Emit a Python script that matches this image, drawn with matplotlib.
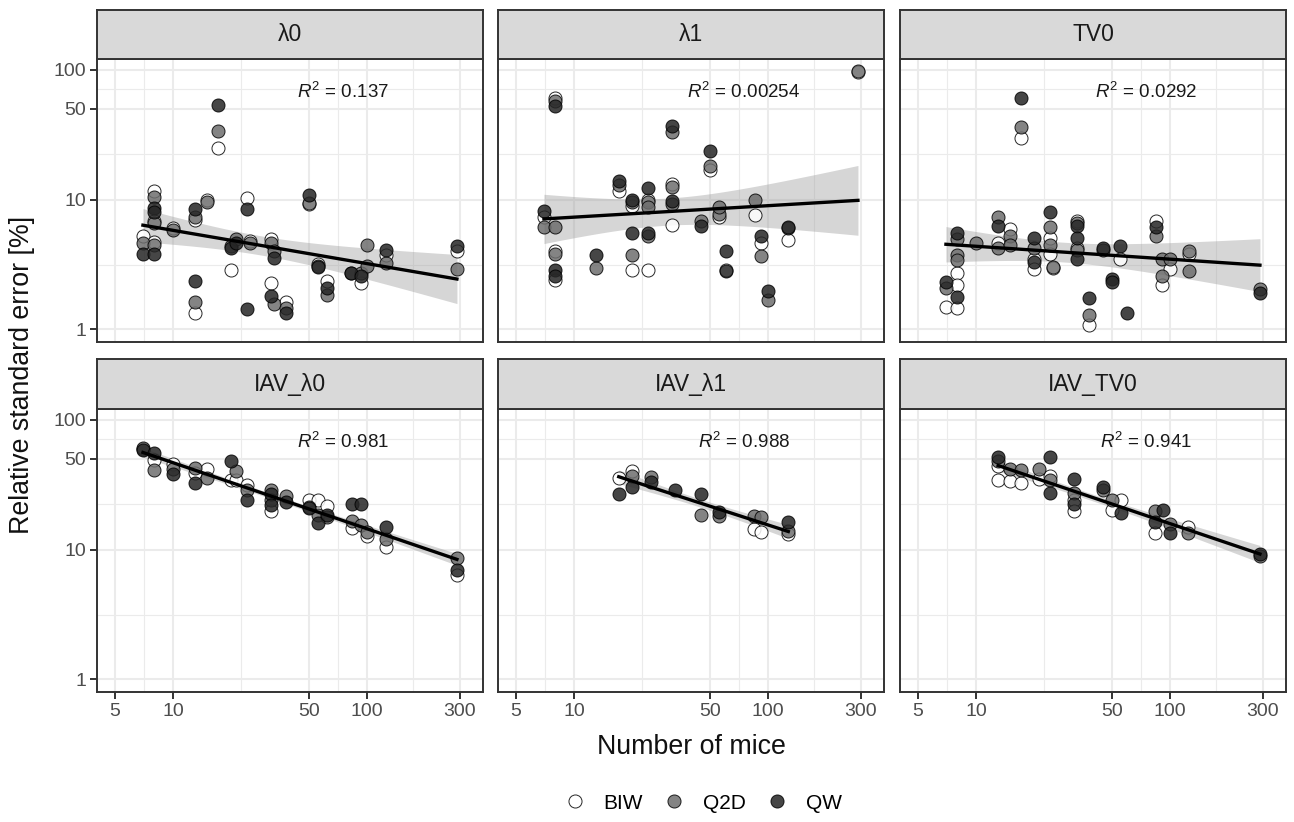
import numpy as np
import matplotlib
matplotlib.use("Agg")
import matplotlib.pyplot as plt
from matplotlib.lines import Line2D
from matplotlib.ticker import FixedLocator

plt.rcParams['font.family'] = ['Liberation Sans', 'DejaVu Sans']
plt.rcParams['mathtext.fontset'] = 'custom'
plt.rcParams['mathtext.rm'] = 'Liberation Sans'
plt.rcParams['mathtext.it'] = 'Liberation Sans:italic'

# ---------------- data ----------------
panel_titles = ["λ0", "λ1", "TV0", "IAV_λ0", "IAV_λ1", "IAV_TV0"]
r2_labels = ["0.137", "0.00254", "0.0292", "0.981", "0.988", "0.941"]
methods = ["BIW", "Q2D", "QW"]
method_fill = {"BIW": "#ffffff", "Q2D": "#6e6e6e", "QW": "#262626"}
x_ticks = [5, 10, 50, 100, 300]
y_ticks = [1, 10, 50, 100]

# lambda0
lam0_x = [7, 7, 7, 8, 8, 8, 8, 8, 8, 8, 8, 8, 10, 10,
          13, 13, 13, 13, 13, 13, 15, 15, 17, 17, 17, 20, 20, 20, 21, 21,
          24, 24, 24, 25, 25, 32, 32, 33, 33, 32, 33, 32, 38, 38, 38,
          50, 50, 50, 56, 56, 56, 62, 62, 62, 83, 83, 93, 93, 93,
          100, 100, 125, 125, 125, 290, 290, 290]
lam0_y = [5.2, 4.6, 3.8, 11.6, 10.5, 8.6, 6.9, 6.6, 8.0, 4.7, 4.5, 3.8, 6.0, 5.8,
          7.0, 7.4, 8.4, 1.33, 1.62, 2.37, 10.0, 9.6, 25.0, 33.7, 53.5, 2.88, 4.4, 4.2, 5.0, 4.6,
          10.3, 8.5, 1.44, 4.8, 4.6, 4.97, 4.6, 4.0, 3.55, 2.27, 1.57, 1.82, 1.64, 1.46, 1.33,
          9.2, 9.4, 10.9, 3.2, 3.1, 3.0, 2.34, 1.85, 2.08, 2.72, 2.7, 2.27, 2.7, 2.6,
          4.5, 3.1, 3.76, 3.24, 4.11, 4.0, 2.92, 4.36]
lam0_m = ["BIW", "Q2D", "QW", "BIW", "Q2D", "QW", "BIW", "Q2D", "QW", "BIW", "Q2D", "QW", "BIW", "Q2D",
          "BIW", "Q2D", "QW", "BIW", "Q2D", "QW", "BIW", "Q2D", "BIW", "Q2D", "QW", "BIW", "Q2D", "QW", "Q2D", "QW",
          "BIW", "QW", "QW", "BIW", "Q2D", "BIW", "Q2D", "Q2D", "QW", "BIW", "Q2D", "QW", "BIW", "Q2D", "QW",
          "BIW", "Q2D", "QW", "BIW", "Q2D", "QW", "BIW", "Q2D", "QW", "Q2D", "QW", "BIW", "Q2D", "QW",
          "Q2D", "Q2D", "BIW", "Q2D", "QW", "BIW", "Q2D", "QW"]

# lambda1
lam1_x = [7, 7, 7, 8, 8, 8, 8, 8, 8, 8, 8, 8, 13, 13,
          17, 17, 17, 20, 20, 20, 20, 20, 20, 24, 24, 24, 24, 24, 24, 24,
          32, 32, 32, 32, 32, 32, 32, 45, 45, 50, 50, 50, 56, 56, 56,
          61, 61, 61, 86, 86, 92, 92, 92, 100, 100, 126, 126, 126, 290, 290]
lam1_y = [7.3, 6.2, 8.1, 61.0, 57.0, 52.5, 4.0, 6.2, 2.88, 2.41, 3.8, 2.6, 3.76, 2.97,
          11.6, 13.0, 14.0, 9.0, 9.5, 10.0, 2.88, 3.76, 5.5, 10.0, 9.6, 12.3, 2.88, 8.7, 5.2, 5.5,
          13.2, 12.6, 36.8, 6.4, 9.2, 33.0, 9.8, 6.8, 6.3, 17.0, 18.1, 23.6, 7.3, 7.8, 8.7,
          2.88, 2.8, 4.0, 7.6, 10.0, 4.6, 3.7, 5.2, 1.69, 1.96, 4.9, 6.0, 6.2, 96.0, 98.0]
lam1_m = ["BIW", "Q2D", "QW", "BIW", "Q2D", "QW", "BIW", "Q2D", "QW", "BIW", "Q2D", "QW", "QW", "Q2D",
          "BIW", "Q2D", "QW", "BIW", "Q2D", "QW", "BIW", "Q2D", "QW", "BIW", "Q2D", "QW", "BIW", "Q2D", "Q2D", "QW",
          "BIW", "Q2D", "QW", "BIW", "Q2D", "Q2D", "QW", "Q2D", "QW", "BIW", "Q2D", "QW", "BIW", "Q2D", "Q2D",
          "BIW", "QW", "QW", "BIW", "Q2D", "BIW", "Q2D", "QW", "Q2D", "QW", "BIW", "Q2D", "QW", "BIW", "Q2D"]

# TV0
tv0_x = [7, 7, 7, 8, 8, 8, 8, 8, 8, 8, 8, 10,
         13, 13, 13, 13, 15, 15, 15, 17, 17, 17, 20, 20, 20, 20, 20,
         24, 24, 24, 24, 24, 25, 25, 33, 33, 33, 33, 33, 33, 33, 38, 38, 38,
         45, 45, 50, 50, 55, 55, 60, 85, 85, 85, 91, 91, 91, 100, 100,
         125, 125, 125, 290, 290]
tv0_y = [1.5, 2.08, 2.3, 5.5, 5.0, 3.76, 3.44, 2.72, 2.2, 1.79, 1.46, 4.63,
         4.6, 7.3, 6.3, 4.2, 5.9, 5.2, 4.5, 30.0, 36.0, 61.0, 3.5, 2.9, 4.2, 5.1, 3.3,
         5.1, 3.8, 6.2, 4.5, 8.0, 2.95, 3.0, 6.9, 4.2, 6.6, 4.1, 6.3, 5.1, 3.5, 1.08, 1.29, 1.74,
         4.1, 4.2, 2.45, 2.3, 3.5, 4.4, 1.33, 6.9, 5.2, 6.2, 2.2, 2.6, 3.5, 2.9, 3.5,
         3.8, 4.0, 2.8, 2.05, 1.9]
tv0_m = ["BIW", "Q2D", "QW", "QW", "Q2D", "Q2D", "Q2D", "BIW", "BIW", "QW", "BIW", "Q2D",
         "BIW", "Q2D", "QW", "Q2D", "BIW", "Q2D", "Q2D", "BIW", "Q2D", "QW", "BIW", "BIW", "Q2D", "QW", "QW",
         "BIW", "BIW", "Q2D", "Q2D", "QW", "BIW", "Q2D", "BIW", "BIW", "Q2D", "Q2D", "QW", "QW", "QW", "BIW", "Q2D", "QW",
         "Q2D", "QW", "QW", "QW", "BIW", "QW", "QW", "BIW", "Q2D", "QW", "BIW", "Q2D", "Q2D", "BIW", "Q2D",
         "BIW", "Q2D", "Q2D", "Q2D", "QW"]

# IAV_lambda0
iavl0_x = [7, 7, 7, 8, 8, 8, 10, 10, 10, 13, 13, 13, 15, 15, 20, 20, 21, 21,
           24, 24, 24, 32, 32, 32, 32, 32, 38, 38, 50, 50, 50, 56, 56, 56, 62, 62, 62,
           84, 84, 84, 93, 93, 100, 100, 125, 125, 125, 290, 290, 290]
iavl0_y = [59.0, 61.0, 58.0, 49.0, 41.0, 55.5, 45.9, 42.0, 38.4, 39.0, 42.5, 32.6, 42.0, 35.5, 34.5, 47.8, 34.5, 40.0,
           31.6, 28.8, 24.2, 19.7, 28.8, 24.2, 27.0, 22.0, 25.8, 23.1, 24.2, 21.4, 20.8, 24.2, 18.5, 16.0, 21.6, 17.8, 18.5,
           14.7, 16.6, 22.5, 15.6, 22.5, 12.7, 13.6, 10.5, 12.1, 14.9, 6.4, 8.6, 7.0]
iavl0_m = ["BIW", "Q2D", "QW", "BIW", "Q2D", "QW", "BIW", "Q2D", "QW", "BIW", "Q2D", "QW", "BIW", "Q2D", "BIW", "QW", "BIW", "Q2D",
           "BIW", "Q2D", "QW", "BIW", "Q2D", "Q2D", "QW", "QW", "Q2D", "QW", "BIW", "Q2D", "QW", "BIW", "Q2D", "QW", "BIW", "Q2D", "QW",
           "BIW", "Q2D", "QW", "Q2D", "QW", "BIW", "Q2D", "BIW", "Q2D", "QW", "BIW", "Q2D", "QW"]

# IAV_lambda1
iavl1_x = [17, 17, 20, 20, 20, 25, 25, 33, 45, 45, 56, 56, 85, 85, 92, 92, 127, 127, 127]
iavl1_y = [35.6, 27.0, 40.0, 36.8, 30.4, 36.5, 33.0, 29.0, 18.6, 26.8, 18.0, 19.6, 14.4, 18.2, 13.7, 17.8, 13.2, 13.9, 16.2]
iavl1_m = ["BIW", "QW", "BIW", "Q2D", "QW", "Q2D", "QW", "QW", "Q2D", "QW", "Q2D", "QW", "BIW", "Q2D", "BIW", "Q2D", "BIW", "Q2D", "QW"]

# IAV_TV0
iavtv0_x = [13, 13, 13, 13, 15, 15, 17, 17, 21, 21, 24, 24, 24, 24,
            32, 32, 32, 32, 32, 45, 45, 50, 50, 56, 56, 84, 84, 84, 92, 100, 100,
            124, 124, 290, 290]
iavtv0_y = [34.5, 44.0, 47.8, 51.6, 33.5, 41.5, 32.6, 41.0, 35.0, 41.5, 37.0, 34.5, 27.3, 51.6,
            24.2, 19.7, 27.3, 35.0, 22.6, 28.8, 30.4, 20.0, 24.0, 24.2, 19.2, 13.5, 19.7, 16.2, 20.0, 15.8, 13.5,
            15.0, 13.5, 9.0, 9.3]
iavtv0_m = ["BIW", "BIW", "Q2D", "QW", "BIW", "Q2D", "BIW", "Q2D", "BIW", "Q2D", "BIW", "Q2D", "QW", "QW",
            "BIW", "BIW", "Q2D", "QW", "QW", "Q2D", "QW", "BIW", "Q2D", "BIW", "QW", "BIW", "Q2D", "QW", "QW", "Q2D", "QW",
            "BIW", "Q2D", "Q2D", "QW"]

panel_data = [(lam0_x, lam0_y, lam0_m), (lam1_x, lam1_y, lam1_m), (tv0_x, tv0_y, tv0_m),
              (iavl0_x, iavl0_y, iavl0_m), (iavl1_x, iavl1_y, iavl1_m), (iavtv0_x, iavtv0_y, iavtv0_m)]

# ---------------- layout ----------------
W, H = 1294, 822
fig = plt.figure(figsize=(W / 100, H / 100), dpi=100)
fig.patch.set_facecolor("white")

col_left = [97, 498, 900]
col_w = 386
rows = [(10, 59, 342), (359, 409, 692)]  # strip top, panel top, panel bottom

def rect(left, top, width, height):
    return [left / W, 1 - (top + height) / H, width / W, height / H]

XLIM = (4.06, 395)
YLIM = (0.80, 121)
border_col = "#333333"

def tq(df):
    return 1.96 + 2.4 / df + 3.0 / df ** 2

for i, (title, r2, (xs, ys, ms)) in enumerate(zip(panel_titles, r2_labels, panel_data)):
    r, c = divmod(i, 3)
    st, pt, pb = rows[r]
    ax = fig.add_axes(rect(col_left[c], pt, col_w, pb - pt))
    sax = fig.add_axes(rect(col_left[c], st, col_w, pt - st))

    ax.set_xscale("log")
    ax.set_yscale("log")
    ax.set_xlim(*XLIM)
    ax.set_ylim(*YLIM)

    # grid
    lx = np.log10(x_ticks)
    xminor = 10 ** ((lx[:-1] + lx[1:]) / 2)
    ly = np.log10(y_ticks)
    yminor = 10 ** ((ly[:-1] + ly[1:]) / 2)
    for v in x_ticks:
        ax.axvline(v, color="#ebebeb", lw=1.5, zorder=0)
    for v in xminor:
        ax.axvline(v, color="#ebebeb", lw=0.8, zorder=0)
    for v in y_ticks:
        ax.axhline(v, color="#ebebeb", lw=1.5, zorder=0)
    for v in yminor:
        ax.axhline(v, color="#ebebeb", lw=0.8, zorder=0)

    ax.xaxis.set_major_locator(FixedLocator(x_ticks))
    ax.yaxis.set_major_locator(FixedLocator(y_ticks))
    ax.xaxis.set_minor_locator(FixedLocator([]))
    ax.yaxis.set_minor_locator(FixedLocator([]))
    ax.set_xticklabels([str(v) for v in x_ticks])
    ax.set_yticklabels([str(v) for v in y_ticks])
    ax.tick_params(axis="both", length=5, width=1.4, color=border_col,
                   labelsize=14, labelcolor="#4d4d4d", pad=3)
    if r == 0:
        ax.tick_params(axis="x", bottom=False, labelbottom=False)
    if c != 0:
        ax.tick_params(axis="y", left=False, labelleft=False)
    for sp in ax.spines.values():
        sp.set_color(border_col)
        sp.set_linewidth(1.4)

    xa = np.array(xs, float)
    ya = np.array(ys, float)
    ma = np.array(ms)

    # regression in log-log space with 95% CI
    lxv = np.log10(xa)
    lyv = np.log10(ya)
    n = len(lxv)
    b, a = np.polyfit(lxv, lyv, 1)
    resid = lyv - (a + b * lxv)
    s = np.sqrt(np.sum(resid ** 2) / (n - 2))
    sxx = np.sum((lxv - lxv.mean()) ** 2)
    gx = np.linspace(lxv.min(), lxv.max(), 100)
    gy = a + b * gx
    se = s * np.sqrt(1 / n + (gx - lxv.mean()) ** 2 / sxx)
    t = tq(n - 2)
    ax.fill_between(10 ** gx, 10 ** (gy - t * se), 10 ** (gy + t * se),
                    color="#999999", alpha=0.4, lw=0, zorder=1)

    for m in methods:
        sel = ma == m
        ax.scatter(xa[sel], ya[sel], s=88, facecolor=method_fill[m], edgecolor="black",
                   linewidth=0.7, alpha=0.85, zorder=2)

    ax.plot(10 ** gx, 10 ** gy, color="black", lw=2.4, zorder=3)

    ax.text(0.637, 0.885, r"$R^2$ = " + r2, transform=ax.transAxes, ha="center",
            va="center", fontsize=13.5, color="#1a1a1a")

    # strip
    sax.set_facecolor("#d9d9d9")
    sax.set_xticks([])
    sax.set_yticks([])
    for sp in sax.spines.values():
        sp.set_color(border_col)
        sp.set_linewidth(1.4)
    sax.text(0.5, 0.5, title, ha="center", va="center", fontsize=16.5,
             color="#1a1a1a", transform=sax.transAxes)

fig.text(691 / W, 1 - 747 / H, "Number of mice", ha="center",
         va="center", fontsize=19.3, color="#111111")
fig.text(22 / W, 1 - 375 / H, "Relative standard error [%]", ha="center",
         va="center", rotation=90, fontsize=19.3, color="#111111")

handles = [Line2D([], [], ls="", marker="o", markersize=9.4, markerfacecolor=method_fill[m],
                  markeredgecolor="black", markeredgewidth=0.7, alpha=0.85) for m in methods]
fig.legend(handles, methods, loc="center", bbox_to_anchor=(702 / W, 1 - 803 / H), ncol=3,
           frameon=False, fontsize=15, handletextpad=0.79, columnspacing=0.89, handlelength=1.2)

fig.savefig("out.png", dpi=100)
